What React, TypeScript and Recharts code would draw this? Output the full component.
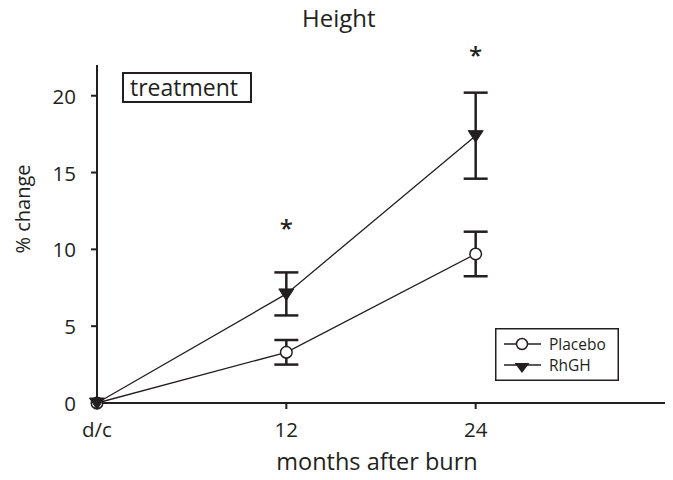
import React from 'react'
import { LineChart, Line, XAxis, YAxis, ErrorBar, Legend, ReferenceDot } from 'recharts'

const months = [0, 12, 24]
const tickLabels = ['d/c', '12', '24']
const placebo = [0, 3.3, 9.7]
const placeboErr = [0, 0.8, 1.45]
const rhgh = [0, 7.1, 17.4]
const rhghErr = [0, 1.4, 2.8]
// significance stars (month, y position in % change)
const starMonths = [12, 24]
const starLevels = [11.5, 22.8]

const data = months.map((m, i) => ({
  month: m,
  placebo: placebo[i],
  placeboErr: placeboErr[i],
  rhgh: rhgh[i],
  rhghErr: rhghErr[i],
}))

const ink = '#231f20'
const font = '"Open Sans", sans-serif'

const CircleDot = (props: any) => {
  const { cx, cy } = props
  if (cx == null || cy == null) return null
  return <circle cx={cx} cy={cy} r={5.8} fill="#fff" stroke={ink} strokeWidth={1.5} />
}

const TriDot = (props: any) => {
  const { cx, cy } = props
  if (cx == null || cy == null) return null
  return <path d={`M${cx - 7.5},${cy - 5} L${cx + 7.5},${cy - 5} L${cx},${cy + 6.5} Z`} fill={ink} stroke={ink} strokeWidth={1} />
}

const XTick = (props: any) => {
  const { x, y, payload } = props
  return (
    <text x={x} y={y + 20} textAnchor="middle" fontSize={20.5} fontFamily={font} fill={ink} dominantBaseline="central">
      {tickLabels[months.indexOf(payload.value)]}
    </text>
  )
}

const YTick = (props: any) => {
  const { x, y, payload } = props
  return (
    <text x={x - 15} y={y} textAnchor="end" fontSize={20.5} fontFamily={font} fill={ink} dominantBaseline="central">
      {payload.value}
    </text>
  )
}

const LegendBox = () => (
  <svg width={124} height={53} style={{ display: 'block' }}>
    <rect x={0.75} y={0.75} width={122.5} height={51.5} fill="#fff" stroke={ink} strokeWidth={1.5} />
    <line x1={9} y1={16} x2={46} y2={16} stroke={ink} strokeWidth={1.5} />
    <circle cx={27} cy={16} r={5.5} fill="#fff" stroke={ink} strokeWidth={1.5} />
    <text x={54} y={16} dominantBaseline="central" fontSize={15.5} fontFamily={font} fill={ink}>Placebo</text>
    <line x1={9} y1={37} x2={46} y2={37} stroke={ink} strokeWidth={1.5} />
    <path d="M19.5,35 L34.5,35 L27,45 Z" fill={ink} />
    <text x={54} y={37} dominantBaseline="central" fontSize={15.5} fontFamily={font} fill={ink}>RhGH</text>
  </svg>
)

export default function App() {
  return (
    <div style={{ position: 'absolute', left: 0, top: 0, width: 673, height: 480, background: '#fff', fontFamily: font, color: ink }}>
      <div style={{ position: 'absolute', left: 302, top: 6, fontSize: 24, lineHeight: '24px' }}>Height</div>
      <div style={{ position: 'absolute', left: 122, top: 72, width: 130, height: 31, boxSizing: 'border-box', border: `2px solid ${ink}`, fontSize: 23, lineHeight: '26px', paddingLeft: 6, zIndex: 2, whiteSpace: 'nowrap' }}>treatment</div>
      <LineChart width={673} height={480} data={data} margin={{ top: 65, right: 8, bottom: 0, left: 0 }}>
        <XAxis
          type="number"
          dataKey="month"
          domain={[0, 36]}
          ticks={months}
          height={77}
          tickSize={6}
          tickMargin={0}
          axisLine={{ stroke: ink, strokeWidth: 2 }}
          tickLine={{ stroke: ink, strokeWidth: 2 }}
          tick={<XTick />}
          label={{ content: () => <text x={377} y={470} textAnchor="middle" fill={ink} fontSize={23.5} fontFamily={font}>months after burn</text> }}
        />
        <YAxis
          type="number"
          domain={[0, 22]}
          ticks={[0, 5, 10, 15, 20]}
          width={97}
          tickSize={6}
          tickMargin={0}
          axisLine={{ stroke: ink, strokeWidth: 2 }}
          tickLine={{ stroke: ink, strokeWidth: 2 }}
          tick={<YTick />}
          label={{ content: () => <text transform="translate(30,209) rotate(-90)" textAnchor="middle" fill={ink} fontSize={20} fontFamily={font}>% change</text> }}
        />
        <Line dataKey="placebo" stroke={ink} strokeWidth={1.3} type="linear" dot={<CircleDot />} activeDot={false} isAnimationActive={false}>
          <ErrorBar dataKey="placeboErr" direction="y" width={12} stroke={ink} strokeWidth={2.5} />
        </Line>
        <Line dataKey="rhgh" stroke={ink} strokeWidth={1.3} type="linear" dot={<TriDot />} activeDot={false} isAnimationActive={false}>
          <ErrorBar dataKey="rhghErr" direction="y" width={12} stroke={ink} strokeWidth={2.5} />
        </Line>
        {starMonths.map((m, i) => (
          <ReferenceDot
            key={m}
            x={m}
            y={starLevels[i]}
            ifOverflow="visible"
            shape={(p: any) => <text x={p.cx} y={p.cy} dy={11} textAnchor="middle" fontSize={24} fontWeight={600} fontFamily={font} fill={ink}>*</text>}
          />
        ))}
        <Legend
          layout="vertical"
          align="center"
          verticalAlign="middle"
          content={() => <LegendBox />}
          wrapperStyle={{ left: 495, top: 328, width: 124, height: 53 }}
        />
      </LineChart>
    </div>
  )
}
